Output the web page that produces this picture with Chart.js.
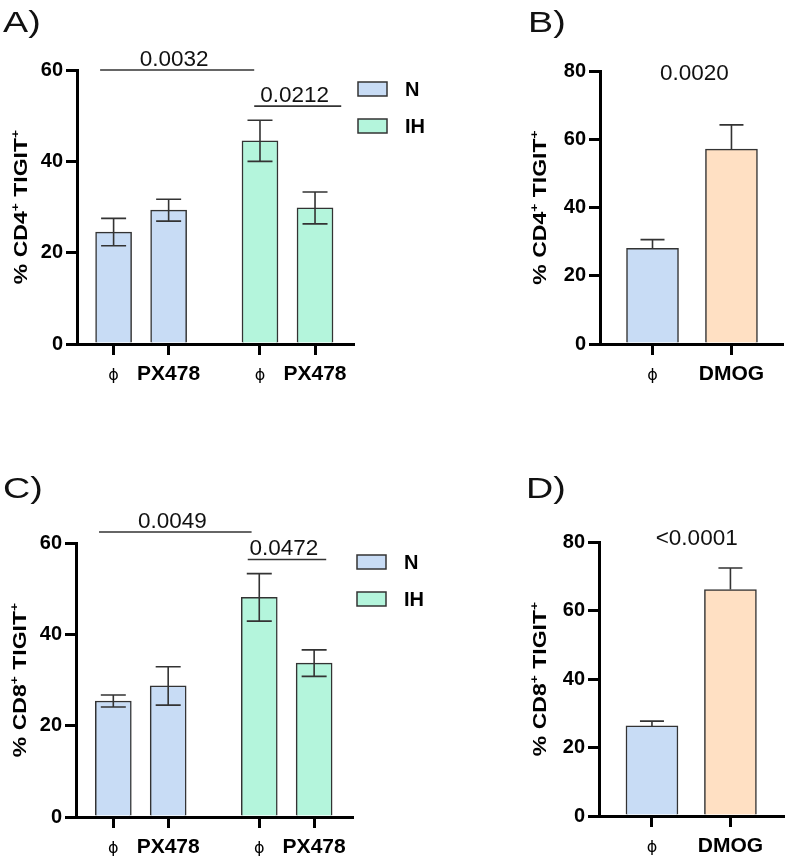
<!DOCTYPE html>
<html>
<head>
<meta charset="utf-8">
<script src="https://cdn.jsdelivr.net/npm/chart.js@4.4.0/dist/chart.umd.min.js"></script>
<style>
  body { margin: 0; background: #fff; }
  #page { position: relative; width: 787px; height: 860px; overflow: hidden; font-family: "Liberation Sans", Arial, sans-serif; }
  .box { position: absolute; }
  .tag { position: absolute; font-size: 29px; line-height: 29px; color: #111; transform: scaleX(1.3); transform-origin: left top; }
</style>
</head>
<body>
<div id="page">
  <div class="box" style="left:0;top:0"><canvas id="chartA" width="430" height="420"></canvas></div>
  <div class="box" style="left:430px;top:0"><canvas id="chartB" width="357" height="420"></canvas></div>
  <div class="box" style="left:0;top:420px"><canvas id="chartC" width="430" height="440"></canvas></div>
  <div class="box" style="left:430px;top:420px"><canvas id="chartD" width="357" height="440"></canvas></div>
  <div class="tag" style="left:3px;top:8px">A)</div>
  <div class="tag" style="left:528px;top:8px">B)</div>
  <div class="tag" style="left:3px;top:474px">C)</div>
  <div class="tag" style="left:526px;top:474px">D)</div>
</div>
<script>
// tick values
const ticksPX = [0, 20, 40, 60];
const ticksDMOG = [0, 20, 40, 60, 80];

// categories
const groups = ['N', 'IH'];
const treatPX = ['ϕ', 'PX478'];
const treatDMOG = ['ϕ', 'DMOG'];

// CD4+ TIGIT+ (mean, SEM)
const cd4N = [24.5, 29.3];
const cd4NErr = [3.0, 2.4];
const cd4IH = [44.5, 29.8];
const cd4IHErr = [4.5, 3.5];
const cd4Dmog = [28.0, 57.1];
const cd4DmogErr = [2.6, 7.1];

// CD8+ TIGIT+ (mean, SEM)
const cd8N = [25.4, 28.7];
const cd8NErr = [1.3, 4.2];
const cd8IH = [48.1, 33.7];
const cd8IHErr = [5.2, 2.9];
const cd8Dmog = [26.3, 66.1];
const cd8DmogErr = [1.4, 6.3];

// p values
const pA = ['0.0032', '0.0212'];
const pB = ['0.0020'];
const pC = ['0.0049', '0.0472'];
const pD = ['<0.0001'];

const FONT = '"Liberation Sans", Arial, sans-serif';
const blue = '#c8dcf5';
const green = '#b4f5dc';
const peach = '#ffe0c3';
const edge = '#333333';
const GAP = 2.66; // where the IH group starts on the x scale

// error bars, p-value brackets, legend and the y title
const extras = {
  id: 'extras',
  afterDatasetsDraw(chart, args, o) {
    const ctx = chart.ctx, xs = chart.scales.x, ys = chart.scales.y, area = chart.chartArea;
    ctx.save();

    // error bars
    chart.data.datasets.forEach((ds, di) => {
      chart.getDatasetMeta(di).data.forEach((bar, i) => {
        const v = ds.data[i].y, e = ds.errors[i];
        const top = ys.getPixelForValue(v + e);
        const bot = ds.upOnly ? ys.getPixelForValue(v) : ys.getPixelForValue(v - e);
        ctx.strokeStyle = edge;
        ctx.lineWidth = 1.6;
        ctx.beginPath();
        ctx.moveTo(bar.x, top); ctx.lineTo(bar.x, bot);
        ctx.moveTo(bar.x - o.cap, top); ctx.lineTo(bar.x + o.cap, top);
        if (!ds.upOnly) { ctx.moveTo(bar.x - o.cap, bot); ctx.lineTo(bar.x + o.cap, bot); }
        ctx.stroke();
      });
    });

    // p values
    ctx.font = '22.5px ' + FONT;
    ctx.fillStyle = '#111';
    ctx.textAlign = 'center';
    ctx.textBaseline = 'alphabetic';
    o.sig.forEach(s => {
      const yp = ys.getPixelForValue(s.y);
      if (s.line) {
        const x1 = xs.getPixelForValue(s.from), x2 = xs.getPixelForValue(s.to);
        ctx.strokeStyle = edge;
        ctx.lineWidth = 1.6;
        ctx.beginPath(); ctx.moveTo(x1, yp); ctx.lineTo(x2, yp); ctx.stroke();
        ctx.fillText(s.text, (x1 + x2) / 2 - 3, yp - 4);
      } else {
        ctx.fillText(s.text, xs.getPixelForValue(s.at), yp);
      }
    });

    // legend
    if (o.legend) {
      chart.data.datasets.forEach((ds, di) => {
        const bx = area.right + 5, by = area.top + 12 + di * 37;
        ctx.fillStyle = ds.backgroundColor;
        ctx.fillRect(bx, by, 29, 14);
        ctx.strokeStyle = edge;
        ctx.lineWidth = 1.5;
        ctx.strokeRect(bx, by, 29, 14);
        ctx.fillStyle = '#000';
        ctx.font = 'bold 20px ' + FONT;
        ctx.textAlign = 'left';
        ctx.textBaseline = 'middle';
        ctx.fillText(ds.label, bx + 47, by + 8);
      });
    }

    // y title with superscripts
    const parts = [['% ' + o.cell, false], ['+', true], [' TIGIT', false], ['+', true]];
    const mainFont = 'bold 23px ' + FONT, supFont = 'bold 14px ' + FONT;
    let total = 0;
    parts.forEach(p => { ctx.font = p[1] ? supFont : mainFont; total += ctx.measureText(p[0]).width; });
    ctx.translate(o.titleX, (area.top + area.bottom) / 2);
    ctx.rotate(-Math.PI / 2);
    ctx.scale(1, 0.76);
    ctx.fillStyle = '#000';
    ctx.textAlign = 'left';
    ctx.textBaseline = 'alphabetic';
    let pos = -total / 2;
    parts.forEach(p => {
      ctx.font = p[1] ? supFont : mainFont;
      ctx.fillText(p[0], pos, p[1] ? -10 : 0);
      pos += ctx.measureText(p[0]).width;
    });
    ctx.restore();
  }
};

function makePanel(id, o) {
  const canvas = document.getElementById(id);
  const W = canvas.width, H = canvas.height;
  const [left, top, right, bottom] = o.area;
  return new Chart(canvas, {
    type: 'bar',
    data: { datasets: o.datasets },
    options: {
      responsive: false,
      animation: false,
      layout: { padding: { left: left - 60, top: top, right: W - right, bottom: H - bottom - 50 } },
      plugins: {
        legend: { display: false },
        tooltip: { enabled: false },
        extras: { sig: o.sig, legend: o.legend, cell: o.cell, titleX: o.titleX, cap: o.cap }
      },
      scales: {
        x: {
          type: 'linear',
          min: o.xMin,
          max: o.xMax,
          offset: false,
          afterBuildTicks: s => { s.ticks = o.xPos.map(v => ({ value: v })); },
          afterFit: s => { s.height = 50; },
          border: { color: '#000', width: 3 },
          grid: { drawOnChartArea: false, offset: false, tickLength: 11, lineWidth: 3, color: '#000' },
          ticks: {
            autoSkip: false,
            maxRotation: 0,
            padding: 7,
            color: '#000',
            callback: (v, i) => o.xLabels[i],
            font: c => o.xLabels[c.index] === 'ϕ'
              ? { family: '"DejaVu Sans", sans-serif', size: 16, weight: 'normal', lineHeight: 1.75 }
              : { family: FONT, size: 21, weight: 'bold' }
          }
        },
        y: {
          min: 0,
          max: o.yTicks[o.yTicks.length - 1],
          afterBuildTicks: s => { s.ticks = o.yTicks.map(v => ({ value: v })); },
          afterFit: s => { s.width = 60; },
          border: { color: '#000', width: 3 },
          grid: { drawOnChartArea: false, tickLength: 11, lineWidth: 3, color: '#000' },
          ticks: { padding: 3, color: '#000', font: { family: FONT, size: 20, weight: 'bold' } }
        }
      }
    },
    plugins: [extras]
  });
}

function groupSets(nVals, nErr, ihVals, ihErr) {
  return [
    { label: groups[0], data: nVals.map((v, i) => ({ x: i, y: v })), errors: nErr,
      backgroundColor: blue, borderColor: edge, borderWidth: 1.5, barThickness: 36, grouped: false },
    { label: groups[1], data: ihVals.map((v, i) => ({ x: i + GAP, y: v })), errors: ihErr,
      backgroundColor: green, borderColor: edge, borderWidth: 1.5, barThickness: 36, grouped: false }
  ];
}

function dmogSets(vals, errs) {
  return [
    { label: 'DMOG', data: vals.map((v, i) => ({ x: i, y: v })), errors: errs, upOnly: true,
      backgroundColor: [blue, peach], borderColor: edge, borderWidth: 1.5, barThickness: 52 }
  ];
}

const pxPos = [0, 1, GAP, 1 + GAP];
const pxLabels = treatPX.concat(treatPX);

makePanel('chartA', {
  area: [77, 70, 353, 344], xMin: -0.665, xMax: 4.35, xPos: pxPos, xLabels: pxLabels,
  yTicks: ticksPX, cell: 'CD4', titleX: 27, cap: 12.5, legend: true,
  datasets: groupSets(cd4N, cd4NErr, cd4IH, cd4IHErr),
  sig: [
    { text: pA[0], line: true, from: -0.245, to: 2.555, y: 60 },
    { text: pA[1], line: true, from: 2.555, to: 4.136, y: 52.1 }
  ]
});

makePanel('chartB', {
  area: [170, 71, 352, 344], xMin: -0.665, xMax: 1.64, xPos: [0, 1], xLabels: treatDMOG,
  yTicks: ticksDMOG, cell: 'CD4', titleX: 116, cap: 12, legend: false,
  datasets: dmogSets(cd4Dmog, cd4DmogErr),
  sig: [{ text: pB[0], line: false, at: 0.53, y: 77.3 }]
});

makePanel('chartC', {
  area: [76, 123, 352, 397], xMin: -0.68, xMax: 4.35, xPos: pxPos, xLabels: pxLabels,
  yTicks: ticksPX, cell: 'CD8', titleX: 26, cap: 12.5, legend: true,
  datasets: groupSets(cd8N, cd8NErr, cd8IH, cd8IHErr),
  sig: [
    { text: pC[0], line: true, from: -0.26, to: 2.52, y: 62.4 },
    { text: pC[1], line: true, from: 2.45, to: 3.88, y: 56.4 }
  ]
});

makePanel('chartD', {
  area: [169, 122, 353, 396], xMin: -0.675, xMax: 1.67, xPos: [0, 1], xLabels: treatDMOG,
  yTicks: ticksDMOG, cell: 'CD8', titleX: 116, cap: 12, legend: false,
  datasets: dmogSets(cd8Dmog, cd8DmogErr),
  sig: [{ text: pD[0], line: false, at: 0.57, y: 79.2 }]
});
</script>
</body>
</html>
